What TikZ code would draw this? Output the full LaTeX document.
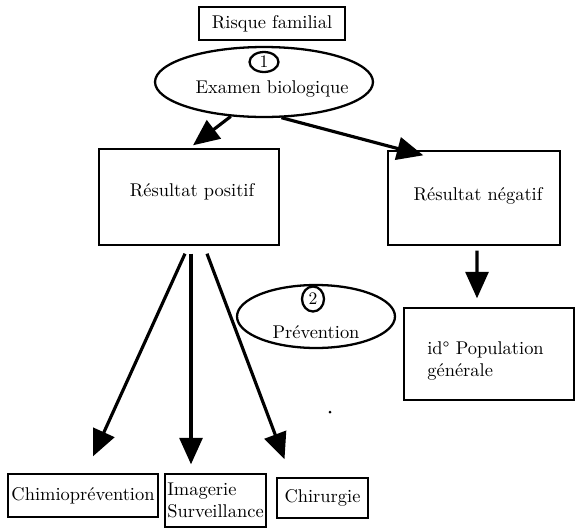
\documentclass[tikz,border=0pt]{standalone}
\usetikzlibrary{shapes.geometric,arrows.meta}
\tikzset{
    box/.style={draw, line width=0.8pt, inner sep=0pt},
    oval/.style={draw, ellipse, line width=1.3pt, inner sep=0pt},
    numoval/.style={draw, ellipse, line width=1.3pt, inner sep=0pt, font=\fontsize{10}{11}\selectfont},
    bigarrow/.style={line width=1.8pt, -{Triangle[length=15pt,width=13pt]}},
}
\begin{document}
\begin{tikzpicture}[x=0.02cm,y=-0.02cm,font=\fontsize{10.5}{12.5}\selectfont]
        \useasboundingbox (0,0) rectangle (575,528);
        % Draw boxes
        \node[box, minimum width=2.92cm, minimum height=0.66cm] (risque) at (272,23.5) {Risque familial};
        \node[box, minimum width=3.6cm, minimum height=1.92cm] (posi) at (189,197) {};
        \node (positxt) at (192,192) {R\'esultat positif};
        \node[box, minimum width=3.44cm, minimum height=1.88cm] (nega) at (474,198) {};
        \node (negatxt) at (478,196) {R\'esultat n\'egatif};
        \node[box, minimum width=3.4cm, minimum height=1.84cm] (popgen) at (489,354) {};
        \node[anchor=west, align=left, inner sep=0pt] (popgentxt) at (427,361) {id° Population\\g\'en\'erale};
        \node[box, minimum width=3.0cm, minimum height=0.86cm] (chimio) at (83,495.5) {Chimiopr\'evention};
        \node[box, minimum width=2.02cm, minimum height=1.06cm, align=left] (imag) at (215.5,500.5) {Imagerie\\Surveillance};
        \node[box, minimum width=1.82cm, minimum height=0.8cm] (chir) at (322.5,498) {Chirurgie};
        % Draw ovals
        \node[oval, minimum width=4.36cm, minimum height=1.4cm] (exam) at (264,82) {};
        \node (examtxt) at (272,89) {Examen biologique};
        \node[numoval, minimum width=0.58cm, minimum height=0.4cm] (num1) at (264,62) {1};
        \node[oval, minimum width=3.16cm, minimum height=1.26cm] (prev) at (316,316.5) {};
        \node (prevtxt) at (316,332) {Pr\'evention};
        \node[numoval, minimum width=0.44cm, minimum height=0.5cm] (num2) at (313,299) {2};
        % Draw arrows
        \draw[bigarrow] (exam.226) -- ([shift={(4,-3)}]posi.north);
        \draw[bigarrow] (exam.296) -- ([shift={(36,5)}]nega.north west);
        \draw[bigarrow] ([xshift=0.06cm,yshift=-0.1cm]nega.south) -- ([xshift=-0.24cm,yshift=0.18cm]popgen.north);
        \foreach \sx/\target/\tx/\ty in {-4/chimio/10/-17, 2/imag/-24.5/-9, 18/chir/-38/-18} {
            \draw[bigarrow] ([shift={(\sx,8)}]posi.south) -- ([shift={(\tx,\ty)}]\target.north);
        }
        % Stray dot
        \fill (330,412) circle (1.5);
    \end{tikzpicture}
\end{document}
